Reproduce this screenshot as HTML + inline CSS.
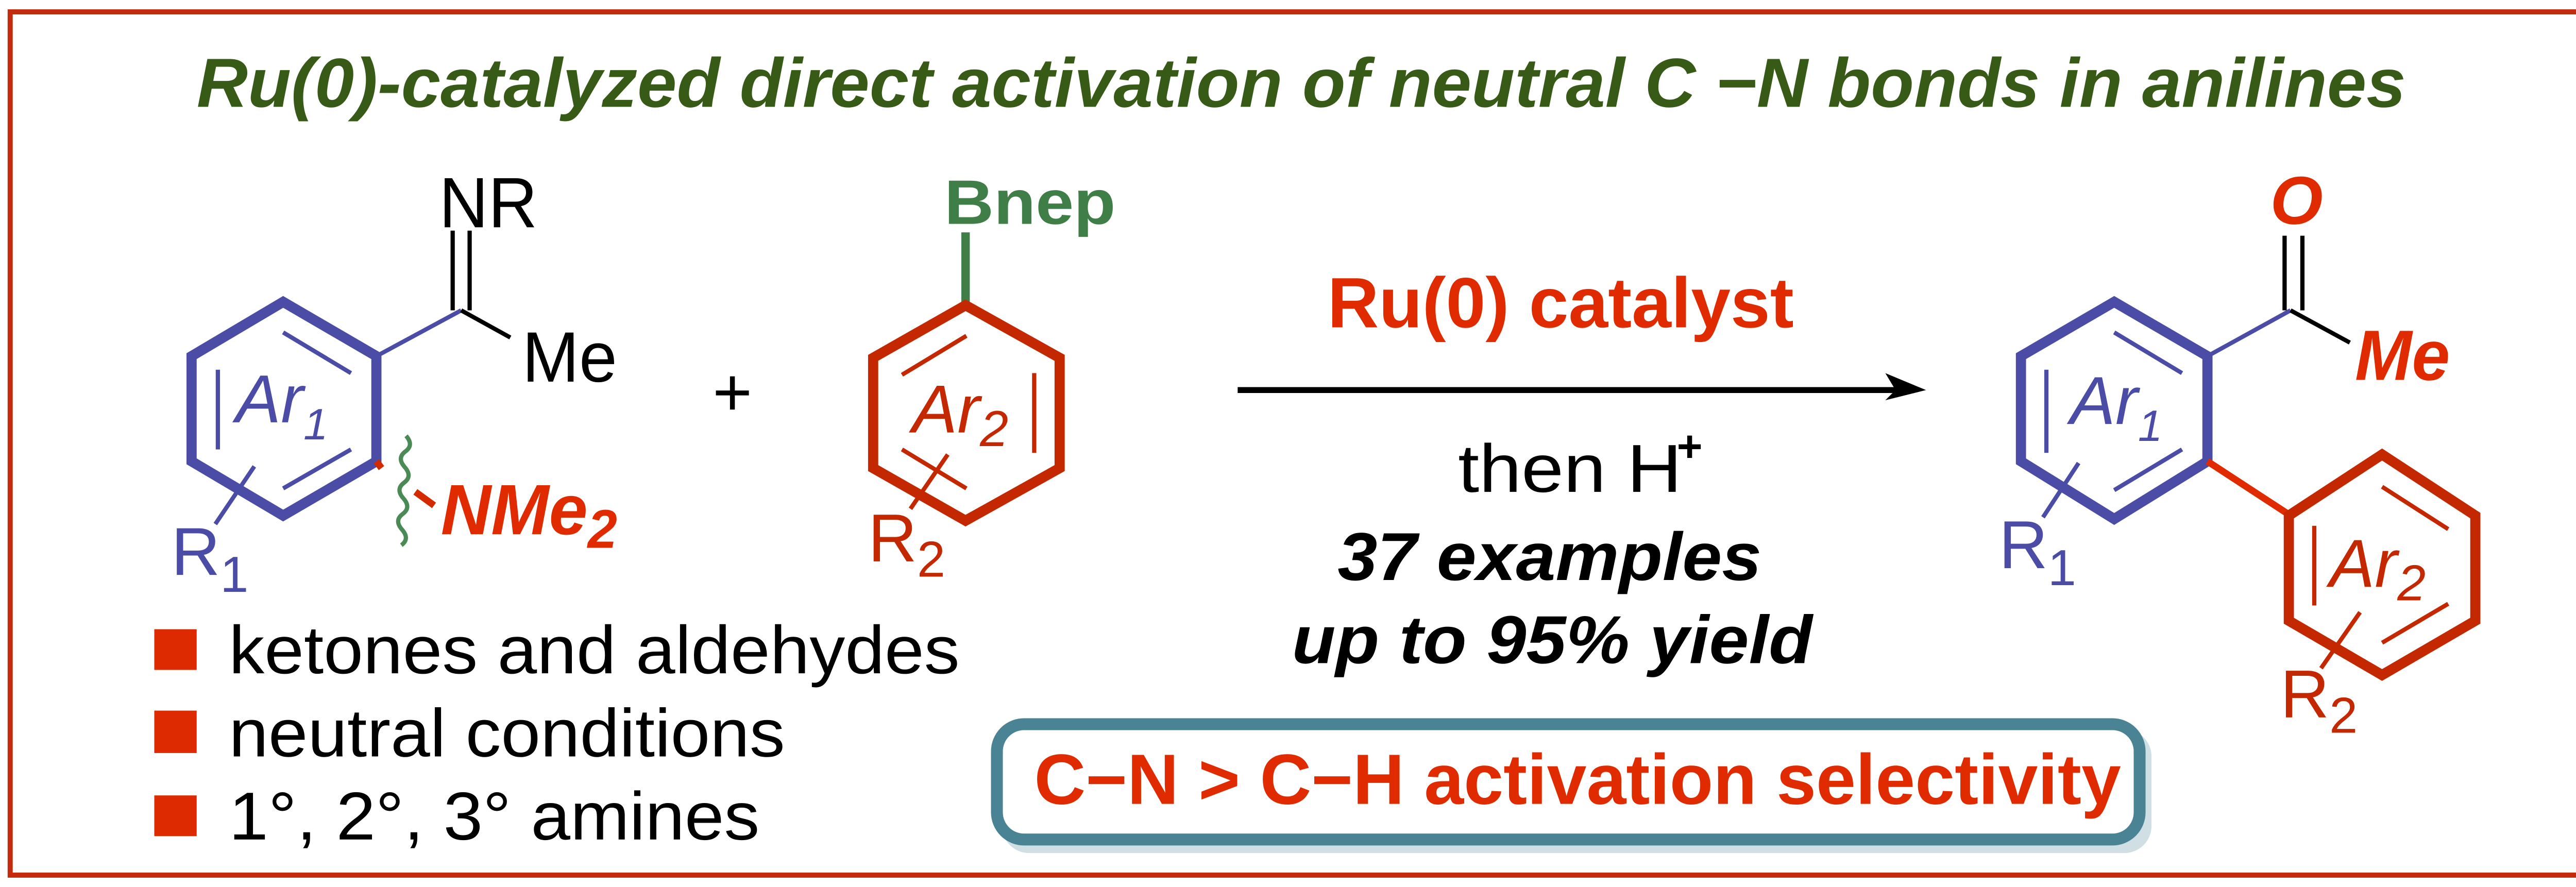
<!DOCTYPE html>
<html><head><meta charset="utf-8"><style>
html,body{margin:0;padding:0;background:#fff;}
svg{display:block;}
text{font-family:"Liberation Sans",sans-serif;}
</style></head><body>
<svg width="5160" height="1722" viewBox="0 0 1568 523" preserveAspectRatio="none" xmlns="http://www.w3.org/2000/svg">
<rect x="0" y="0" width="1568" height="523" fill="#fff"/>
<rect x="6" y="7" width="1555" height="509" fill="none" stroke="#c42a0c" stroke-width="3"/>
<text x="116" y="63" font-size="41" font-weight="bold" font-style="italic" fill="#375a16" textLength="1303" lengthAdjust="spacingAndGlyphs">Ru(0)-catalyzed direct activation of neutral C −N bonds in anilines</text>

<!-- Ar1 reactant -->
<g stroke="#4a4ca6" fill="none" stroke-linejoin="miter">
<polygon points="167,178 222,210 222,272 167,304 113,272 113,210" stroke-width="6"/>
<line x1="128.5" y1="218" x2="128.5" y2="265" stroke-width="2.5"/>
<line x1="167" y1="196" x2="207" y2="220" stroke-width="2.5"/>
<line x1="207" y1="265" x2="167" y2="288" stroke-width="2.5"/>
<line x1="222" y1="210" x2="272" y2="183" stroke-width="2.5"/>
<line x1="150" y1="275" x2="127" y2="309" stroke-width="2.5"/>
</g>
<g stroke="#000" stroke-width="2.5">
<line x1="267" y1="136" x2="267" y2="183"/>
<line x1="277" y1="136" x2="277" y2="183"/>
<line x1="272" y1="183" x2="301" y2="199"/>
</g>
<text x="259" y="134" font-size="42" textLength="58" lengthAdjust="spacingAndGlyphs">NR</text>
<text x="308" y="225" font-size="42" textLength="56" lengthAdjust="spacingAndGlyphs">Me</text>
<text x="139" y="249" font-size="40" font-style="italic" fill="#4a4ca6">Ar<tspan font-size="26" dy="10">1</tspan></text>
<text x="101" y="339" font-size="40" fill="#4a4ca6">R<tspan font-size="30" dy="10">1</tspan></text>
<path d="M232,256 q6,4 2,9 q-4,5 2,9 q6,4 2,9 q-4,5 2,9 q6,4 2,9 q-4,5 2,9 q6,4 2,9" fill="none" stroke="#4a8a55" stroke-width="2.5" transform="rotate(15 232 285)"/>
<line x1="222" y1="272" x2="225" y2="276" stroke="#d42a00" stroke-width="4"/>
<line x1="245" y1="290" x2="256" y2="298" stroke="#d42a00" stroke-width="4"/>
<text x="260" y="315" font-size="42" font-weight="bold" font-style="italic" fill="#e02a00" textLength="104" lengthAdjust="spacingAndGlyphs">NMe<tspan font-size="32" dy="8">2</tspan></text>

<text x="432" y="245" font-size="40" text-anchor="middle">+</text>

<!-- Ar2 reactant -->
<line x1="569.5" y1="137" x2="569.5" y2="180" stroke="#3f7f47" stroke-width="5"/>
<text x="557" y="132" font-size="37" font-weight="bold" fill="#3f7f47" textLength="101" lengthAdjust="spacingAndGlyphs">Bnep</text>
<g stroke="#c42800" fill="none">
<polygon points="569.5,180 625,211 625,276 569.5,307 515,276 515,211" stroke-width="6"/>
<line x1="532" y1="221" x2="570" y2="198" stroke-width="2.5"/>
<line x1="610" y1="220" x2="610" y2="267" stroke-width="2.5"/>
<line x1="532" y1="265" x2="570" y2="288" stroke-width="2.5"/>
<line x1="559" y1="268" x2="537" y2="300" stroke-width="2.5"/>
</g>
<text x="538" y="255" font-size="40" font-style="italic" fill="#c42800">Ar<tspan font-size="30" dy="8">2</tspan></text>
<text x="512" y="331" font-size="40" fill="#c42800">R<tspan font-size="30" dy="9">2</tspan></text>

<!-- bullets -->
<rect x="91" y="371" width="25" height="24" fill="#dd2a00"/>
<rect x="91" y="419" width="25" height="25" fill="#dd2a00"/>
<rect x="91" y="469" width="25" height="24" fill="#dd2a00"/>
<text x="135" y="397" font-size="40" textLength="431" lengthAdjust="spacingAndGlyphs">ketones and aldehydes</text>
<text x="135" y="446" font-size="40" textLength="328" lengthAdjust="spacingAndGlyphs">neutral conditions</text>
<text x="135" y="495" font-size="40" textLength="313" lengthAdjust="spacingAndGlyphs">1°, 2°, 3° amines</text>

<!-- arrow -->
<line x1="730" y1="230" x2="1120" y2="230" stroke="#000" stroke-width="3.5"/>
<polygon points="1136,230 1112,220 1118,230 1112,236" fill="#000"/>
<text x="783" y="193" font-size="42" font-weight="bold" fill="#e02a00" textLength="275" lengthAdjust="spacingAndGlyphs">Ru(0) catalyst</text>
<text x="860" y="290" font-size="40" textLength="132" lengthAdjust="spacingAndGlyphs">then H</text>
<text x="989" y="272" font-size="26" font-weight="bold">+</text>
<text x="789" y="342" font-size="40" font-weight="bold" font-style="italic" textLength="250" lengthAdjust="spacingAndGlyphs">37 examples</text>
<text x="762" y="391" font-size="40" font-weight="bold" font-style="italic" textLength="307" lengthAdjust="spacingAndGlyphs">up to 95% yield</text>

<!-- teal box -->
<rect x="591" y="430" width="678" height="73" rx="16" fill="#cfdfe3"/>
<rect x="588" y="427" width="674" height="68" rx="16" fill="#fff" stroke="#4a8494" stroke-width="7"/>
<text x="610" y="474" font-size="42" font-weight="bold" fill="#e02a00" textLength="641" lengthAdjust="spacingAndGlyphs">C−N &gt; C−H activation selectivity</text>

<!-- product -->
<g stroke="#4a4ca6" fill="none">
<polygon points="1247,178 1302,210 1302,272 1247,306 1192,272 1192,210" stroke-width="6"/>
<line x1="1207" y1="218" x2="1207" y2="267" stroke-width="2.5"/>
<line x1="1247" y1="196" x2="1287" y2="220" stroke-width="2.5"/>
<line x1="1287" y1="265" x2="1247" y2="289" stroke-width="2.5"/>
<line x1="1302" y1="210" x2="1351" y2="183" stroke-width="2.5"/>
<line x1="1226" y1="273" x2="1205" y2="305" stroke-width="2.5"/>
</g>
<text x="1221" y="250" font-size="40" font-style="italic" fill="#4a4ca6">Ar<tspan font-size="26" dy="10">1</tspan></text>
<text x="1179" y="335" font-size="40" fill="#4a4ca6">R<tspan font-size="30" dy="10">1</tspan></text>
<g stroke="#000" stroke-width="2.5">
<line x1="1347.5" y1="139" x2="1347.5" y2="183"/>
<line x1="1358" y1="139" x2="1358" y2="183"/>
<line x1="1351" y1="183" x2="1386" y2="202"/>
</g>
<text x="1339" y="132" font-size="40" font-weight="bold" font-style="italic" fill="#e02a00">O</text>
<text x="1389" y="224" font-size="42" font-weight="bold" font-style="italic" fill="#e02a00" textLength="56" lengthAdjust="spacingAndGlyphs">Me</text>
<line x1="1302" y1="272" x2="1351" y2="304" stroke="#e02a00" stroke-width="4"/>
<g stroke="#c42800" fill="none">
<polygon points="1405,268 1460,304 1460,366 1405,398 1350,366 1350,304" stroke-width="6"/>
<line x1="1405" y1="287" x2="1444" y2="312" stroke-width="2.5"/>
<line x1="1365" y1="310" x2="1365" y2="357" stroke-width="2.5"/>
<line x1="1444" y1="356" x2="1405" y2="379" stroke-width="2.5"/>
<line x1="1392" y1="361" x2="1369" y2="394" stroke-width="2.5"/>
</g>
<text x="1374" y="346" font-size="40" font-style="italic" fill="#c42800">Ar<tspan font-size="30" dy="8">2</tspan></text>
<text x="1345" y="423" font-size="40" fill="#c42800">R<tspan font-size="30" dy="9">2</tspan></text>
</svg>
</body></html>
